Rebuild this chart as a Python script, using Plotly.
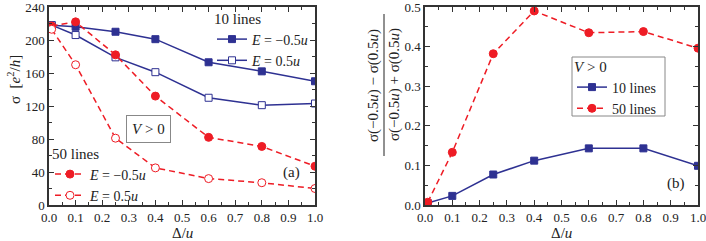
import plotly.graph_objects as go

# ---------------- data ----------------
delta = [0.01, 0.1, 0.25, 0.4, 0.6, 0.8, 1.0]
sig10_neg = [218, 216, 210, 201, 173, 162, 150]
sig10_pos = [218, 206, 179, 161, 130, 121, 123]
sig50_neg = [217, 222, 182, 132, 82, 71, 47]
sig50_pos = [213, 170, 81, 45, 32, 27, 20]
asym10 = [0.005, 0.023, 0.077, 0.112, 0.143, 0.143, 0.099]
asym50 = [0.007, 0.133, 0.382, 0.490, 0.435, 0.438, 0.396]
x_ticks = [0.0, 0.1, 0.2, 0.3, 0.4, 0.5, 0.6, 0.7, 0.8, 0.9, 1.0]

W, H = 706, 241
BLUE = "#2E3192"
RED = "#EE1C25"
FONT = "Liberation Serif"
AX = "#333333"
TXT = "#222222"

def px(x):
    return x / W

def py(y):
    return 1 - y / H

fig = go.Figure()

# Left panel
fig.add_trace(go.Scatter(x=delta, y=sig10_neg, mode="lines+markers",
    line=dict(color=BLUE, width=1.5),
    marker=dict(symbol="square", size=7, color=BLUE, line=dict(color=BLUE, width=1)),
    name="<i>E</i> = −0.5<i>u</i>", legend="legend", xaxis="x", yaxis="y"))
fig.add_trace(go.Scatter(x=delta, y=sig10_pos, mode="lines+markers",
    line=dict(color=BLUE, width=1.5),
    marker=dict(symbol="square", size=7, color="white", line=dict(color=BLUE, width=1)),
    name="<i>E</i> = 0.5<i>u</i>", legend="legend", xaxis="x", yaxis="y"))
fig.add_trace(go.Scatter(x=delta, y=sig50_neg, mode="lines+markers",
    line=dict(color=RED, width=1.5, dash="6px,4px"),
    marker=dict(symbol="circle", size=8, color=RED, line=dict(color=RED, width=1)),
    name="<i>E</i> = −0.5<i>u</i>", legend="legend2", xaxis="x", yaxis="y"))
fig.add_trace(go.Scatter(x=delta, y=sig50_pos, mode="lines+markers",
    line=dict(color=RED, width=1.5, dash="6px,4px"),
    marker=dict(symbol="circle", size=8, color="white", line=dict(color=RED, width=1)),
    name="<i>E</i> = 0.5<i>u</i>", legend="legend2", xaxis="x", yaxis="y"))

# Right panel
fig.add_trace(go.Scatter(x=delta, y=asym10, mode="lines+markers",
    line=dict(color=BLUE, width=1.5),
    marker=dict(symbol="square", size=7, color=BLUE, line=dict(color=BLUE, width=1)),
    name="10 lines", legend="legend3", xaxis="x2", yaxis="y2"))
fig.add_trace(go.Scatter(x=delta, y=asym50, mode="lines+markers",
    line=dict(color=RED, width=1.5, dash="6px,4px"),
    marker=dict(symbol="circle", size=8, color=RED, line=dict(color=RED, width=1)),
    name="50 lines", legend="legend3", xaxis="x2", yaxis="y2"))

axis_common = dict(showline=True, linecolor=AX, linewidth=1.5, mirror="allticks",
                   ticks="inside", ticklen=5, tickwidth=1, tickcolor=AX,
                   showgrid=False, zeroline=False, ticklabeloverflow="allow",
                   tickfont=dict(family=FONT, size=13, color=TXT))

xaxis_common = dict(axis_common, range=[0, 1], tickvals=x_ticks,
                    ticktext=[f"{v:.1f}" for v in x_ticks],
                    minor=dict(ticks="inside", ticklen=3, dtick=0.05, tickcolor=AX, showgrid=False))

leg_font = dict(family=FONT, size=14, color=TXT)
title_font = dict(family=FONT, size=15, color=TXT)

fig.update_layout(
    width=W, height=H,
    margin=dict(l=0, r=0, t=0, b=0, autoexpand=False),
    paper_bgcolor="white", plot_bgcolor="white",
    showlegend=True,
    xaxis=dict(xaxis_common, domain=[px(49), px(315)], anchor="y"),
    yaxis=dict(axis_common, domain=[py(205), py(7)], anchor="x", range=[0, 240],
               tickvals=[0, 40, 80, 120, 160, 200, 240],
               minor=dict(ticks="inside", ticklen=3, dtick=20, tickcolor=AX, showgrid=False)),
    xaxis2=dict(xaxis_common, domain=[px(425), px(698)], anchor="y2"),
    yaxis2=dict(axis_common, domain=[py(205), py(7)], anchor="x2", range=[0, 0.5],
                tickvals=[0, 0.1, 0.2, 0.3, 0.4, 0.5],
                ticktext=["0.0", "0.1", "0.2", "0.3", "0.4", "0.5"],
                minor=dict(ticks="inside", ticklen=3, dtick=0.05, tickcolor=AX, showgrid=False)),
    legend=dict(x=px(212), y=py(4), xanchor="left", yanchor="top",
                bgcolor="rgba(0,0,0,0)", font=leg_font,
                title=dict(text="10 lines", font=title_font, side="top"),
                tracegroupgap=0, itemwidth=30),
    legend2=dict(x=px(50), y=py(139), xanchor="left", yanchor="top",
                 bgcolor="rgba(0,0,0,0)", font=leg_font,
                 title=dict(text="50 lines", font=title_font, side="top"),
                 tracegroupgap=0, itemwidth=30),
    legend3=dict(x=px(572), y=py(52), xanchor="left", yanchor="top",
                 bgcolor="rgba(0,0,0,0)", borderwidth=0,
                 font=leg_font,
                 title=dict(text="<i>V</i> > 0", font=title_font, side="top"),
                 tracegroupgap=0, itemwidth=30),
)

ann_font = dict(family=FONT, size=15, color=TXT)
annotations = [
    dict(x=px(182), y=py(233), text="Δ/<i>u</i>"),
    dict(x=px(561), y=py(233), text="Δ/<i>u</i>"),
    dict(x=px(291), y=py(172), text="(a)"),
    dict(x=px(676), y=py(183), text="(b)"),
    dict(x=px(14), y=py(80), text="σ  [<i>e</i><sup>2</sup>/<i>h</i>]", textangle=-90),
    dict(x=px(373), y=py(85), text="σ(−0.5<i>u</i>) − σ(0.5<i>u</i>)", textangle=-90),
    dict(x=px(394), y=py(85), text="σ(−0.5<i>u</i>) + σ(0.5<i>u</i>)", textangle=-90),
    dict(x=px(148), y=py(129), text="<i>V</i> > 0", bordercolor="#888", borderwidth=1,
         borderpad=5, bgcolor="white"),
]
for a in annotations:
    fig.add_annotation(xref="paper", yref="paper", showarrow=False,
                       xanchor="center", yanchor="middle", font=ann_font, **a)

# fraction bar of the right y-axis title
fig.add_shape(type="line", xref="paper", yref="paper",
              x0=px(384), x1=px(384), y0=py(14), y1=py(156),
              line=dict(color=TXT, width=1))
# frame of the right legend
fig.add_shape(type="rect", xref="paper", yref="paper",
              x0=px(572), x1=px(665), y0=py(57), y1=py(116),
              line=dict(color="#888", width=1))

fig.write_html("out.html", config={"displayModeBar": False},
               post_script="document.body.style.margin='0';document.body.style.padding='0';")
